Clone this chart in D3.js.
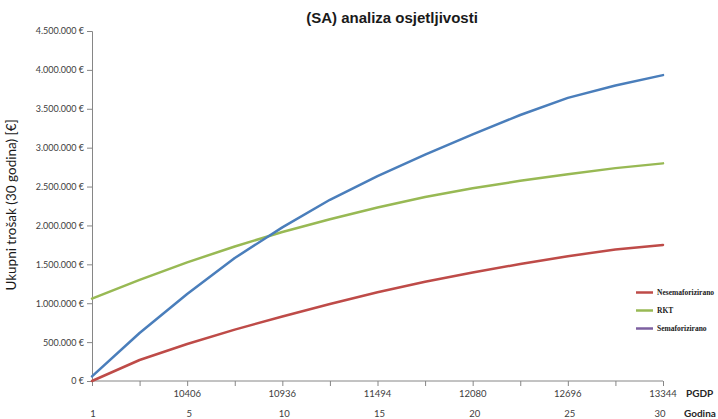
<!DOCTYPE html>
<html><head><meta charset="utf-8">
<script src="https://cdnjs.cloudflare.com/ajax/libs/d3/7.8.5/d3.min.js"></script>
<style>body{margin:0;background:#fff;}svg{display:block;}</style>
</head><body>
<svg id="c" width="718" height="419"></svg>
<script>
// ---- data ----
const categories = [0,1,2,3,4,5,6,7,8,9,10,11,12];
const pgdpLabels = ["", "", "10406", "", "10936", "", "11494", "", "12080", "", "12696", "", "13344"];
const godinaLabels = ["1", "", "5", "", "10", "", "15", "", "20", "", "25", "", "30"];
const nesemaforizirano = [0, 270000, 475000, 660000, 830000, 990000, 1140000, 1275000, 1395000, 1505000, 1605000, 1690000, 1750000];
const rkt = [1060000, 1300000, 1525000, 1730000, 1915000, 2080000, 2230000, 2365000, 2477000, 2574000, 2659000, 2737000, 2798000];
const semaforizirano = [60000, 617000, 1118000, 1581000, 1975000, 2330000, 2635000, 2910000, 3170000, 3420000, 3640000, 3800000, 3933000];
const yTicks = [0, 500000, 1000000, 1500000, 2000000, 2500000, 3000000, 3500000, 4000000, 4500000];
const legendNames = ["Nesemaforizirano", "RKT", "Semaforizirano"];
const legendColors = ["#be4b48", "#98b954", "#7d60a0"];

const svg = d3.select("#c");
const x = d3.scalePoint().domain(categories).range([92, 663]);
const y = d3.scaleLinear().domain([0, 4500000]).range([381, 31]);
const fmt = v => d3.format(",")(v).replace(/,/g, ".") + " €";
const axisColor = "#868686";
const lf = "Lato, 'Open Sans', 'Liberation Sans', sans-serif";

// y axis
const ya = svg.append("g").attr("transform", "translate(92,0)")
  .call(d3.axisLeft(y).tickValues(yTicks).tickSize(5).tickPadding(3).tickFormat(fmt));
ya.select(".domain").attr("stroke", axisColor);
ya.selectAll(".tick line").attr("stroke", axisColor);
ya.selectAll("text").attr("font-family", lf).attr("font-size", 9).attr("fill", "#404040");

// x axis
const xTickScale = d3.scaleLinear().domain([0, 12]).range([92, 663]);
const xa = svg.append("g").attr("transform", "translate(0,381)")
  .call(d3.axisBottom(xTickScale).tickValues(d3.range(0, 13)).tickSize(5).tickFormat(""));
xa.select(".domain").attr("stroke", axisColor).attr("d", "M92,0H663");
xa.selectAll(".tick line").attr("stroke", axisColor);

svg.append("g").selectAll("text").data(categories.filter(i => pgdpLabels[i] !== ""))
  .join("text").attr("x", d => x(d)).attr("y", 397).attr("text-anchor", "middle")
  .attr("font-family", lf).attr("font-size", 9.5).attr("fill", "#404040").text(d => pgdpLabels[d]);
svg.append("g").selectAll("text").data(categories.filter(i => godinaLabels[i] !== ""))
  .join("text").attr("x", d => x(d) + (d === 0 ? 1 : d === 12 ? -3 : 2)).attr("y", 417).attr("text-anchor", "middle")
  .attr("font-family", lf).attr("font-size", 9.5).attr("fill", "#404040").text(d => godinaLabels[d]);
svg.append("text").attr("x", 686).attr("y", 397).attr("font-family", lf).attr("font-weight", "bold")
  .attr("font-size", 10).attr("fill", "#262626").text("PGDP");
svg.append("text").attr("x", 684).attr("y", 417).attr("font-family", lf).attr("font-weight", "bold")
  .attr("font-size", 10).attr("fill", "#262626").text("Godina");

// lines
const line = d3.line().x((d, i) => x(categories[i])).y(d => y(d));
const series = [
  {v: rkt, c: "#98b954"},
  {v: nesemaforizirano, c: "#be4b48"},
  {v: semaforizirano, c: "#4a7ebb"}
];
svg.append("g").selectAll("path").data(series).join("path")
  .attr("d", d => line(d.v)).attr("fill", "none").attr("stroke", d => d.c)
  .attr("stroke-width", 2.5).attr("stroke-linejoin", "round").attr("stroke-linecap", "round");

// title
svg.append("text").attr("x", 392).attr("y", 23).attr("text-anchor", "middle")
  .attr("font-family", "'Liberation Sans', Arial, sans-serif").attr("font-weight", "bold")
  .attr("font-size", 15).attr("fill", "#1a1a1a").text("(SA) analiza osjetljivosti");

// y axis title
svg.append("text").attr("transform", "translate(16,205) rotate(-90)").attr("text-anchor", "middle")
  .attr("font-family", lf).attr("font-size", 13.5).attr("fill", "#1a1a1a")
  .text("Ukupni trošak (30 godina) [€]");

// legend
const lg = svg.append("g").selectAll("g").data(legendNames).join("g")
  .attr("transform", (d, i) => `translate(636,${292.5 + i * 18})`);
lg.append("line").attr("x1", 0).attr("x2", 17).attr("y1", 0).attr("y2", 0)
  .attr("stroke", (d, i) => legendColors[i]).attr("stroke-width", 2.5);
lg.append("text").attr("x", 21).attr("y", 2.5).attr("font-family", "'Liberation Serif', 'Times New Roman', serif")
  .attr("font-weight", "bold").attr("font-size", 7.5).attr("fill", "#1a1a1a").text(d => d);
</script>
</body></html>
